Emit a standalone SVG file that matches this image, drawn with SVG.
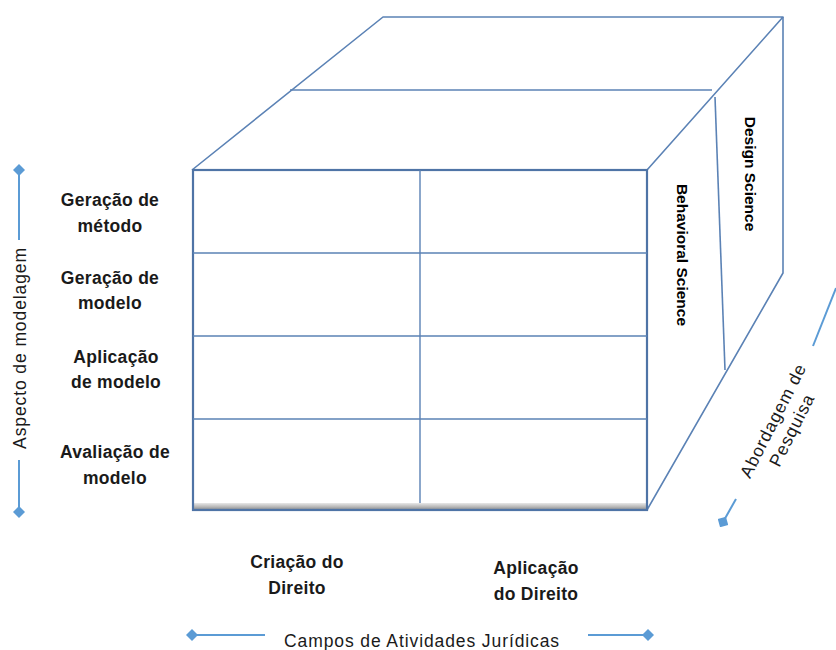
<svg xmlns="http://www.w3.org/2000/svg" width="836" height="650" viewBox="0 0 836 650">
<defs>
<style>
.edge{fill:none;stroke:#5b82b5;stroke-width:1.6;stroke-linejoin:round}
.front{fill:none;stroke:#4f74a6;stroke-width:2.2}
.grid{fill:none;stroke:#5b82b5;stroke-width:1.4}
.axis{fill:none;stroke:#5b9bd5;stroke-width:2}
.lbl{font-family:"Liberation Sans",Arial,sans-serif;font-weight:bold;font-size:17.5px;letter-spacing:0.3px;fill:#1a1a1a;text-anchor:middle}
.ax{font-family:"Liberation Sans",Arial,sans-serif;font-size:17.5px;letter-spacing:0.9px;fill:#1a1a1a;text-anchor:middle}
.side{font-family:"Liberation Sans",Arial,sans-serif;font-weight:bold;font-size:15.5px;fill:#000;text-anchor:middle}
</style>
<linearGradient id="bar" x1="0" y1="0" x2="0" y2="1">
<stop offset="0" stop-color="#e8e8e8"/>
<stop offset="0.5" stop-color="#b5b5b5"/>
<stop offset="1" stop-color="#707880"/>
</linearGradient>
<marker id="dia" viewBox="-5 -5 10 10" markerWidth="12" markerHeight="12" refX="0" refY="0" orient="auto" markerUnits="userSpaceOnUse">
<path d="M-5 0 L0 -5 L5 0 L0 5 Z" fill="#5b9bd5"/>
</marker>
</defs>
<rect width="836" height="650" fill="#fff"/>

<g id="cube">
<path class="edge" d="M192 170 L383 17 L783 17 L647 170"/>
<path class="edge" d="M783 17 L783 273 L647 510"/>
<path class="edge" d="M290 90 L712 90"/>
<path class="edge" d="M715 97 L725 370"/>
<rect x="193" y="503" width="454" height="8" fill="url(#bar)"/>
<rect class="front" x="193" y="170" width="454" height="340"/>
<path class="grid" d="M420 170 L420 503 M193 253 L647 253 M193 336 L647 336 M193 419 L647 419"/>
</g>

<g id="row-labels">
<text class="lbl" x="110" y="206">Geração de</text>
<text class="lbl" x="110" y="232">método</text>
<text class="lbl" x="110" y="284">Geração de</text>
<text class="lbl" x="110" y="309">modelo</text>
<text class="lbl" x="116" y="363">Aplicação</text>
<text class="lbl" x="116" y="388">de modelo</text>
<text class="lbl" x="115" y="458">Avaliação de</text>
<text class="lbl" x="115" y="484">modelo</text>
</g>

<g id="col-labels">
<text class="lbl" x="297" y="568">Criação do</text>
<text class="lbl" x="297" y="594">Direito</text>
<text class="lbl" x="536" y="574">Aplicação</text>
<text class="lbl" x="536" y="600">do Direito</text>
</g>

<g id="side-labels">
<text class="side" transform="translate(745 174) rotate(90)">Design Science</text>
<text class="side" transform="translate(677 255) rotate(90)">Behavioral Science</text>
</g>

<g id="connectors">
<path class="axis" d="M19 240 L19 170" marker-end="url(#dia)"/>
<path class="axis" d="M19 460 L19 512" marker-end="url(#dia)"/>
<path class="axis" d="M265 635 L192 635" marker-end="url(#dia)"/>
<path class="axis" d="M588 635 L648 635" marker-end="url(#dia)"/>
<path class="axis" d="M836 288 L813 346"/>
<path class="axis" d="M736 499 L723 522" marker-end="url(#dia)"/>
</g>

<g id="axis-labels">
<text class="ax" transform="translate(26 348) rotate(-90)">Aspecto de modelagem</text>
<text class="ax" x="422" y="647">Campos de Atividades Jurídicas</text>
<g transform="translate(782 425) rotate(-63)">
<text class="ax" x="0" y="-4">Abordagem de</text>
<text class="ax" x="0" y="17">Pesquisa</text>
</g>
</g>
</svg>
